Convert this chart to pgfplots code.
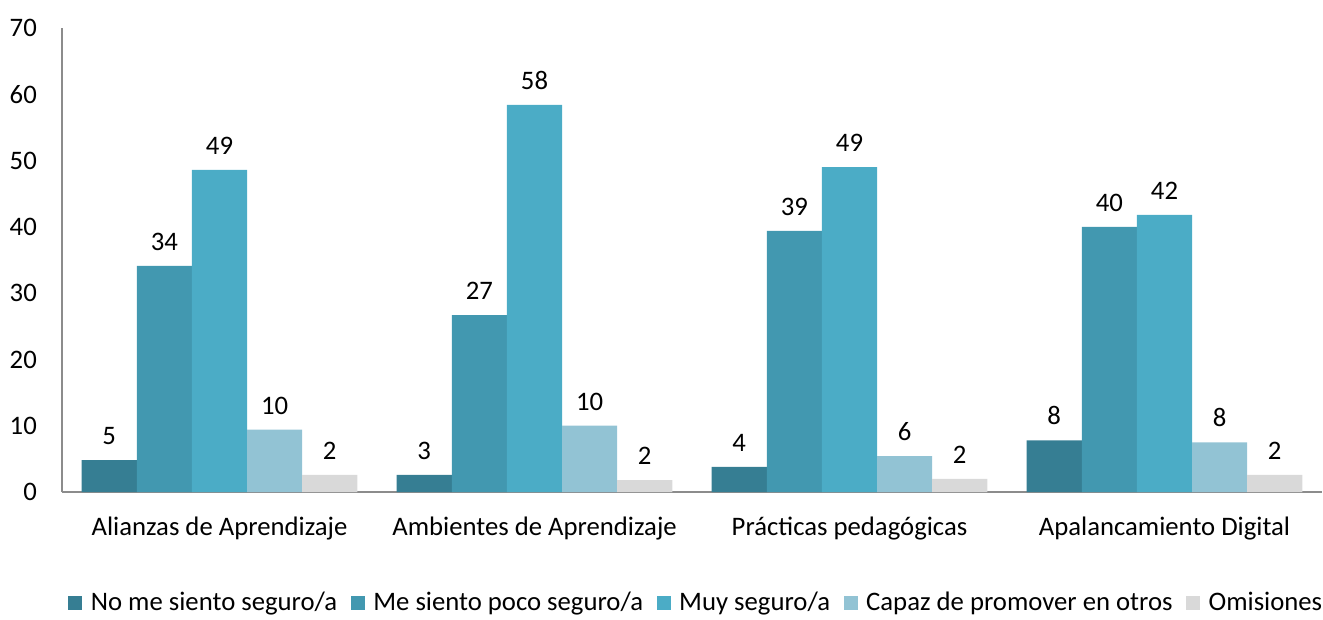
\documentclass[border=0pt]{standalone}
\usepackage{pgfplots}
\pgfplotsset{compat=1.18}
\usepackage{fontspec}
\setmainfont{Carlito}

\definecolor{cA}{HTML}{367E93}
\definecolor{cB}{HTML}{4298B0}
\definecolor{cC}{HTML}{4BACC6}
\definecolor{cD}{HTML}{92C3D4}
\definecolor{cE}{HTML}{D9D9D9}
\definecolor{axisgray}{HTML}{8C8C8C}

\begin{document}
\begin{tikzpicture}
\begin{axis}[
	ybar=0pt, bar width=0.175,
	scale only axis, width=25.2cm, height=9.28cm,
	xmin=-0.5, xmax=3.5, ymin=0, ymax=70,
	xtick={0,1,2,3},
	xticklabels={Alianzas de Aprendizaje, Ambientes de Aprendizaje, Prácticas pedagógicas, Apalancamiento Digital},
	ytick={0,10,...,70},
	axis x line=bottom, axis y line=left,
	axis line style={draw=axisgray, line width=1.2pt, -},
	tick style={draw=none},
	major tick length=0pt,
	font=\fontsize{15.2}{18}\selectfont,
	/pgf/number format/assume math mode=true,
	yticklabel style={xshift=-0.38cm},
	xticklabel style={yshift=-0.38cm},
	point meta=explicit symbolic,
	nodes near coords,
	nodes near coords style={anchor=south, yshift=0.18cm, text=black},
	legend style={at={(0.504,-0.2)}, anchor=north, legend columns=-1, draw=none,
		/tikz/every odd column/.append style={column sep=0.1cm},
		/tikz/every even column/.append style={column sep=0.2cm}},
	legend image code/.code={\fill[#1] (0cm,-0.14cm) rectangle (0.28cm,0.14cm);},
]
\addplot[fill=cA, draw=none] coordinates {(0,4.8)[5] (1,2.6)[3] (2,3.8)[4] (3,7.8)[8]};
\addlegendentry{No me siento seguro/a}
\addplot[fill=cB, draw=none] coordinates {(0,34.1)[34] (1,26.7)[27] (2,39.4)[39] (3,40.0)[40]};
\addlegendentry{Me siento poco seguro/a}
\addplot[fill=cC, draw=none] coordinates {(0,48.6)[49] (1,58.4)[58] (2,49.0)[49] (3,41.8)[42]};
\addlegendentry{Muy seguro/a}
\addplot[fill=cD, draw=none] coordinates {(0,9.4)[10] (1,10.0)[10] (2,5.4)[6] (3,7.5)[8]};
\addlegendentry{Capaz de promover en otros}
\addplot[fill=cE, draw=none] coordinates {(0,2.6)[2] (1,1.8)[2] (2,2.0)[2] (3,2.6)[2]};
\addlegendentry{Omisiones}
\coordinate (bl) at (rel axis cs:0,0);
\coordinate (tr) at (rel axis cs:1,1);
\end{axis}
\pgfresetboundingbox
\path[use as bounding box] ([xshift=-1.24cm, yshift=-2.54cm]bl) rectangle ([xshift=0.02cm, yshift=0.56cm]tr);
\end{tikzpicture}
\end{document}
